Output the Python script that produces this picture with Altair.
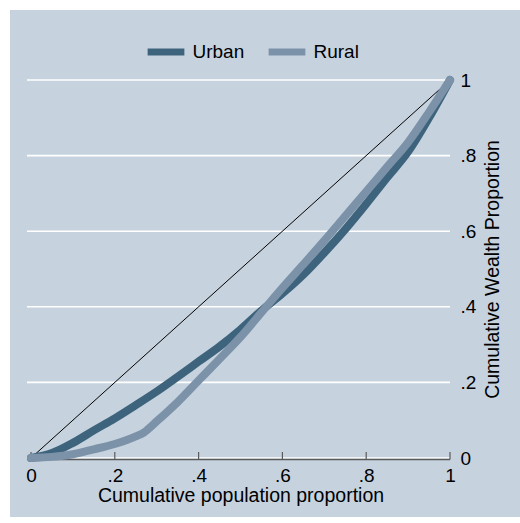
import altair as alt
import pandas as pd

# Lorenz curves: cumulative population share vs cumulative wealth share
urban_pop = [0, .05, .1, .15, .2, .25, .3, .35, .4, .45, .5, .55, .6, .65, .7, .75, .8, .85, .9, .95, 1]
urban_wealth = [0, .013, .04, .073, .105, .14, .176, .215, .255, .295, .34, .39, .435, .485, .543, .605, .672, .742, .81, .9, 1]

rural_pop = [0, .05, .1, .15, .2, .25, .27, .3, .35, .4, .45, .5, .55, .6, .65, .7, .75, .8, .85, .9, .95, 1]
rural_wealth = [0, .003, .01, .023, .037, .057, .068, .097, .148, .205, .262, .32, .385, .45, .512, .575, .64, .705, .77, .835, .915, 1]

# line of perfect equality
equality_x = [0, 1]
equality_y = [0, 1]

series_names = ["Urban", "Rural"]
series_colors = ["#3e647d", "#7b92a8"]

tick_values = [0, .2, .4, .6, .8, 1]
tick_labels = ["0", ".2", ".4", ".6", ".8", "1"]
grid_values = [0, .2, .4, .6, .8, 1]

BG = "#c6d3df"
FONT = "Liberation Sans"
W, H = 419, 378
PAD = {"left": 31, "top": 80, "right": 70, "bottom": 65}

urban_df = pd.DataFrame({"pop": urban_pop, "wealth": urban_wealth, "series": "Urban"})
rural_df = pd.DataFrame({"pop": rural_pop, "wealth": rural_wealth, "series": "Rural"})
equality_df = pd.DataFrame({"pop": equality_x, "wealth": equality_y})
grid_df = pd.DataFrame({"g": grid_values})
tick_df = pd.DataFrame({"t": tick_values})

xscale = alt.Scale(domain=[0, 1], nice=False, zero=False)
yscale = alt.Scale(domain=[0, 1], nice=False, zero=False)
# tick label text looked up by position in tick_values
label_expr = "[" + ",".join(f"'{s}'" for s in tick_labels) + "][round(datum.value * 5)]"

# axes carry labels and titles only; grid, axis line and ticks are drawn as layers
x_axis = alt.Axis(
    values=tick_values, labelExpr=label_expr, grid=False, domain=False,
    ticks=False, tickSize=0, labelPadding=8, labelFlush=False,
    labelFontSize=19, labelColor="black", labelFont=FONT,
    title="Cumulative population proportion", titleFontSize=19.5,
    titleFontWeight="normal", titleColor="black", titleFont=FONT,
    titlePadding=1,
)
y_axis = alt.Axis(
    orient="right", values=tick_values, labelExpr=label_expr, grid=False,
    domain=False, ticks=False, tickSize=0, labelPadding=10, labelFlush=False,
    labelAlign="left", labelBaseline="middle",
    labelFontSize=19, labelColor="black", labelFont=FONT,
    title="Cumulative Wealth Proportion", titleFontSize=19.5,
    titleFontWeight="normal", titleColor="black", titleFont=FONT,
    titleAngle=270, titleBaseline="top", titlePadding=8,
)
color_scale = alt.Scale(domain=series_names, range=series_colors)
legend = alt.Legend(
    title=None, orient="none", direction="horizontal", legendX=113, legendY=-50,
    symbolType="stroke", symbolSize=1350, symbolStrokeWidth=7,
    labelFontSize=19, labelFont=FONT, labelColor="black", labelOffset=4.5,
    columnPadding=9, padding=0,
)

# white frame around the shaded graph region (top, left and bottom edges)
frame_top = alt.Chart(alt.Data(values=[{}])).mark_rect(color="white").encode(
    x=alt.value(-PAD["left"]), x2=alt.value(W + PAD["right"]),
    y=alt.value(-PAD["top"]), y2=alt.value(-PAD["top"] + 10),
)
frame_left = alt.Chart(alt.Data(values=[{}])).mark_rect(color="white").encode(
    x=alt.value(-PAD["left"]), x2=alt.value(-PAD["left"] + 10),
    y=alt.value(-PAD["top"]), y2=alt.value(H + PAD["bottom"]),
)
frame_bottom = alt.Chart(alt.Data(values=[{}])).mark_rect(color="white").encode(
    x=alt.value(-PAD["left"]), x2=alt.value(W + PAD["right"]),
    y=alt.value(H + PAD["bottom"] - 6), y2=alt.value(H + PAD["bottom"]),
)

grid = alt.Chart(grid_df).mark_rule(color="white", strokeWidth=1.6).encode(
    y=alt.Y("g:Q", scale=yscale, axis=y_axis),
    x=alt.value(-4), x2=alt.value(W),
)

domain_line = alt.Chart(alt.Data(values=[{}])).mark_rule(color="#5a5a5a", strokeWidth=1.5).encode(
    x=alt.value(-4), x2=alt.value(W), y=alt.value(H + 1.5)
)

ticks = alt.Chart(tick_df).mark_rule(color="#5a5a5a", strokeWidth=1.2).encode(
    x=alt.X("t:Q", scale=xscale, axis=x_axis),
    y=alt.value(H + 1.5), y2=alt.value(H - 6),
)

equality = alt.Chart(equality_df).mark_line(color="black", strokeWidth=1).encode(
    x=alt.X("pop:Q", scale=xscale, axis=x_axis),
    y=alt.Y("wealth:Q", scale=yscale, axis=y_axis),
)


def curve(df):
    return alt.Chart(df).mark_line(
        strokeWidth=8, strokeCap="round", strokeJoin="round", interpolate="monotone"
    ).encode(
        x=alt.X("pop:Q", scale=xscale, axis=x_axis),
        y=alt.Y("wealth:Q", scale=yscale, axis=y_axis),
        color=alt.Color("series:N", scale=color_scale, legend=legend),
    )


chart = alt.layer(
    frame_top, frame_left, frame_bottom, grid, domain_line, ticks, equality,
    curve(urban_df), curve(rural_df)
).properties(
    width=W, height=H,
    autosize=alt.AutoSizeParams(type="none"),
    padding=PAD,
    background=BG,
).configure(
    font=FONT, view=alt.ViewConfig(strokeWidth=0, stroke="transparent")
)

chart.save("out.html", embed_options={"renderer": "svg", "actions": False})
